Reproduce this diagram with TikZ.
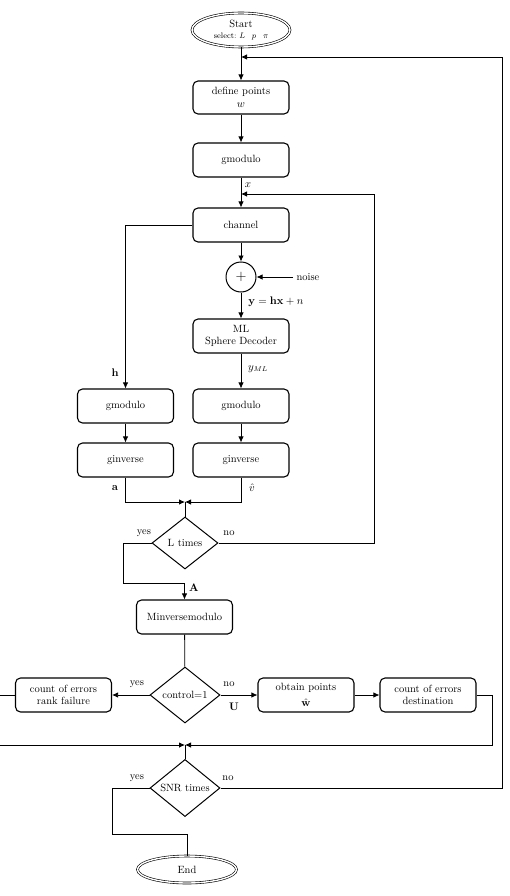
\documentclass[tikz,border=0pt]{standalone}
\usetikzlibrary{shapes.geometric,arrows.meta}
\begin{document}
\begin{tikzpicture}[x=1pt,y=-1pt,
  every node/.style={font=\fontsize{10.5}{12.6}\selectfont},
  box/.style={draw,rounded corners=5pt,line width=1.1pt,minimum width=96pt,minimum height=34pt,align=center,inner sep=2pt},
  term/.style={draw,ellipse,double,double distance=1.4pt,line width=0.6pt,align=center,inner sep=0pt},
  dec/.style={draw,diamond,line width=1pt,inner sep=0pt,minimum width=68pt,minimum height=54pt},
  sumc/.style={draw,circle,line width=1pt,minimum size=30pt,inner sep=0pt},
  conn/.style={line width=0.8pt},
  arr/.style={conn,-{Latex[length=6pt,width=5.5pt]}},
  lbl/.style={inner sep=1pt}]
\useasboundingbox (0,0) rectangle (509,896);
\clip (0,0) rectangle (509,896);
% nodes
\node[term,minimum width=98pt,minimum height=34pt] (start) at (241,30) {Start\\[-2pt]{\footnotesize select:~$L\enspace\ p\enspace\ \pi$}};
\node[box,minimum height=33pt] (define) at (241,97.5) {define points\\[1pt]$w$};
\node[box] (gmod1) at (241,160) {gmodulo};
\node[box] (channel) at (241,225) {channel};
\node[sumc] (plus) at (241,277) {\Large$+$};
\node (noise) at (308,277) {noise};
\node[box] (ml) at (241,336) {ML\\Sphere Decoder};
\node[box] (gmodL) at (125.5,406) {gmodulo};
\node[box] (gmodR) at (241,406) {gmodulo};
\node[box] (ginvL) at (125.5,460) {ginverse};
\node[box] (ginvR) at (241,460) {ginverse};
\node[dec,minimum width=66pt,minimum height=52pt] (ltimes) at (185,543) {L times};
\node[box] (minv) at (184.5,617) {Minversemodulo};
\node[dec,minimum width=70pt,minimum height=56pt] (control) at (185,695) {control=1};
\node[box] (rank) at (63.5,695) {count of errors\\rank failure};
\node[box] (obtain) at (306,695) {obtain points\\[3pt]$\hat{\mathbf{w}}$};
\node[box] (dest) at (428,695) {count of errors\\destination};
\node[dec,minimum width=70pt,minimum height=52pt] (snr) at (185,788) {SNR times};
\node[term,minimum width=99pt,minimum height=27pt] (end) at (187,869.5) {End};
% coordinates
\coordinate (j0) at (241,57);
\coordinate (j1) at (241,194);
\coordinate (fb0) at (502,57);
\coordinate (fb1) at (374,194);
\coordinate (jl) at (185,502);
\coordinate (lyes) at (123,583);
\coordinate (js) at (185,745);
\coordinate (rdest) at (492,745);
\coordinate (lrank) at (-3,745);
\coordinate (syes) at (112,834);
% connectors
\draw[arr] (start) -- (define);
\draw[arr] (define) -- (gmod1);
\draw[arr] (gmod1) -- (channel);
\draw[arr] (channel) -- (plus);
\draw[arr] (noise) -- (plus);
\draw[arr] (plus) -- (ml);
\draw[arr] (ml) -- (gmodR);
\draw[arr] (channel.west) -| (gmodL.north);
\draw[arr] (gmodL) -- (ginvL);
\draw[arr] (gmodR) -- (ginvR);
\draw[arr] (ginvL.south) |- (jl);
\draw[arr] (ginvR.south) |- (jl);
\draw[conn] (jl) -- (ltimes.north);
\draw[arr] (ltimes.west) -| (lyes) -| (minv.north);
\draw[arr] (ltimes.east) -| (fb1) -- (j1);
\draw[conn] (minv) -- (control);
\draw[arr] (control.west) -- (rank.east);
\draw[arr] (control.east) -- (obtain.west);
\draw[arr] (obtain) -- (dest);
\draw[arr] (dest.east) -| (rdest) -- (js);
\draw[arr] (rank.west) -| (lrank) -- (js);
\draw[conn] (js) -- (snr.north);
\draw[conn] (snr.west) -| (syes) -| (end.north);
\draw[arr] (snr.east) -| (fb0) -- (j0);
% labels
\node[lbl] (lx) at (248,185) {$x$};
\node[lbl] (ly) at (276,302) {$\mathbf{y}=\mathbf{h}\mathbf{x}+n$};
\node[lbl] (lyml) at (258,369) {$y_{ML}$};
\node[lbl] (lh) at (115,373) {$\mathbf{h}$};
\node[lbl] (la) at (115,488) {$\mathbf{a}$};
\node[lbl] (lv) at (252,488) {$\hat{v}$};
\node[lbl] (lyes1) at (144,533) {yes};
\node[lbl] (lno1) at (229,533) {no};
\node[lbl] (lA) at (194,588) {$\mathbf{A}$};
\node[lbl] (lyes2) at (137,684) {yes};
\node[lbl] (lno2) at (229,684) {no};
\node[lbl] (lU) at (234,707) {$\mathbf{U}$};
\node[lbl] (lyes3) at (137,778) {yes};
\node[lbl] (lno3) at (228,778) {no};
\end{tikzpicture}
\end{document}
